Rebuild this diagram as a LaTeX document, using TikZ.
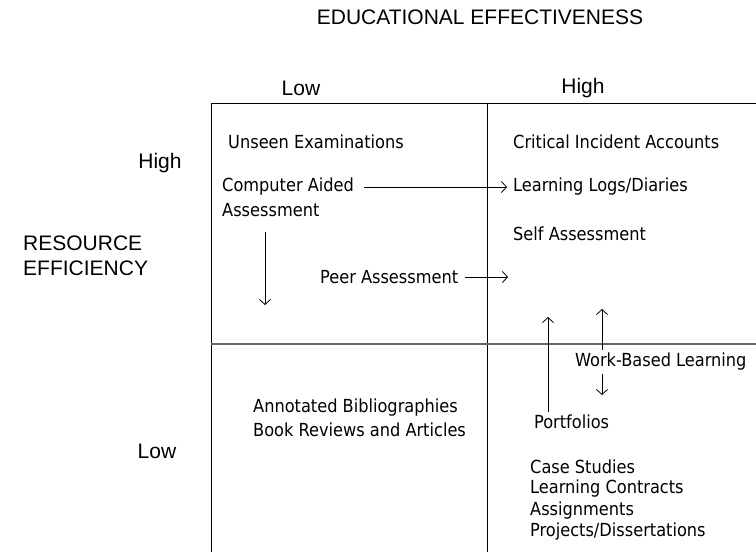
\documentclass[tikz,border=0pt]{standalone}
\usepackage{fontspec}
\setmainfont{Liberation Sans}
\newfontfamily\itemfont{DejaVu Sans Condensed}
\usetikzlibrary{positioning, arrows.meta}
\tikzstyle{heading} = [inner sep=0pt, font=\fontsize{21}{24}\selectfont]
\tikzstyle{entry} = [anchor=west, inner sep=3pt, font=\itemfont\fontsize{18}{20}\selectfont]
\tikzstyle{gridline} = [line width=0.8pt, black]
\tikzstyle{midline} = [line width=1.6pt, black!60]
\tikzstyle{arrow} = [line width=0.8pt, ->, >={Straight Barb[length=5pt, width=11pt]}]

\begin{document}
\begin{tikzpicture}[x=1pt, y=-1pt]
\useasboundingbox (0,0) rectangle (756,555);

% axis titles
\node (effect) [heading] at (480,17) {EDUCATIONAL EFFECTIVENESS};
\node (elow) [heading] at (301,88) {Low};
\node (ehigh) [heading] at (583,88) {High};
\node (rhigh) [heading] at (160,163) {High};
\node (resource) [heading, anchor=west] at (23,243) {RESOURCE};
\node (effic) [heading, anchor=west] at (23,268) {EFFICIENCY};
\node (rlow) [heading] at (157,451) {Low};

% quadrant lines
\draw [gridline] (211,552) -- (211,103) -- (756,103);
\draw [gridline] (487,103) -- (487,552);
\draw [midline] (211,344) -- (756,344);

% top left
\node (unseen) [entry] at (225,142) {Unseen Examinations};
\node (cad) [entry] at (219,187) {Computer Aided};
\node (cad2) [entry] at (219,210) {Assessment};
\node (peer) [entry] at (317,277) {Peer Assessment};

% top right
\node (critical) [entry] at (510,142) {Critical Incident Accounts};
\node (logs) [entry] at (510,187) {Learning Logs/Diaries};
\node (self) [entry] at (510,234) {Self Assessment};

% bottom left
\node (annot) [entry] at (250,408) {Annotated Bibliographies};
\node (book) [entry] at (250,430) {Book Reviews and Articles};

% bottom right
\node (work) [entry] at (572,362) {Work-Based Learning};
\node (port) [entry] at (531,422) {Portfolios};
\node (case) [entry] at (527,467) {Case Studies};
\node (contract) [entry] at (527,489) {Learning Contracts};
\node (assign) [entry] at (527,511) {Assignments};
\node (proj) [entry] at (527,532) {Projects/Dissertations};

% movements
\coordinate (cadtop) at (265,232);
\coordinate (caddown) at (265,305);
\coordinate (peerend) at (508,277);
\coordinate (portup) at (548,317);
\coordinate (workup) at (602,309);
\coordinate (workdown) at (602,395);

\draw [arrow, shorten <=7pt, shorten >=3pt] (cad) -- (logs);
\draw [arrow] (cadtop) -- (caddown);
\draw [arrow, shorten <=4pt] (peer) -- (peerend);
\draw [arrow] (port.north -| portup) -- (portup);
\draw [arrow] (work.north -| workup) -- (workup);
\draw [arrow] (work.south -| workdown) -- (workdown);

\end{tikzpicture}
\end{document}
